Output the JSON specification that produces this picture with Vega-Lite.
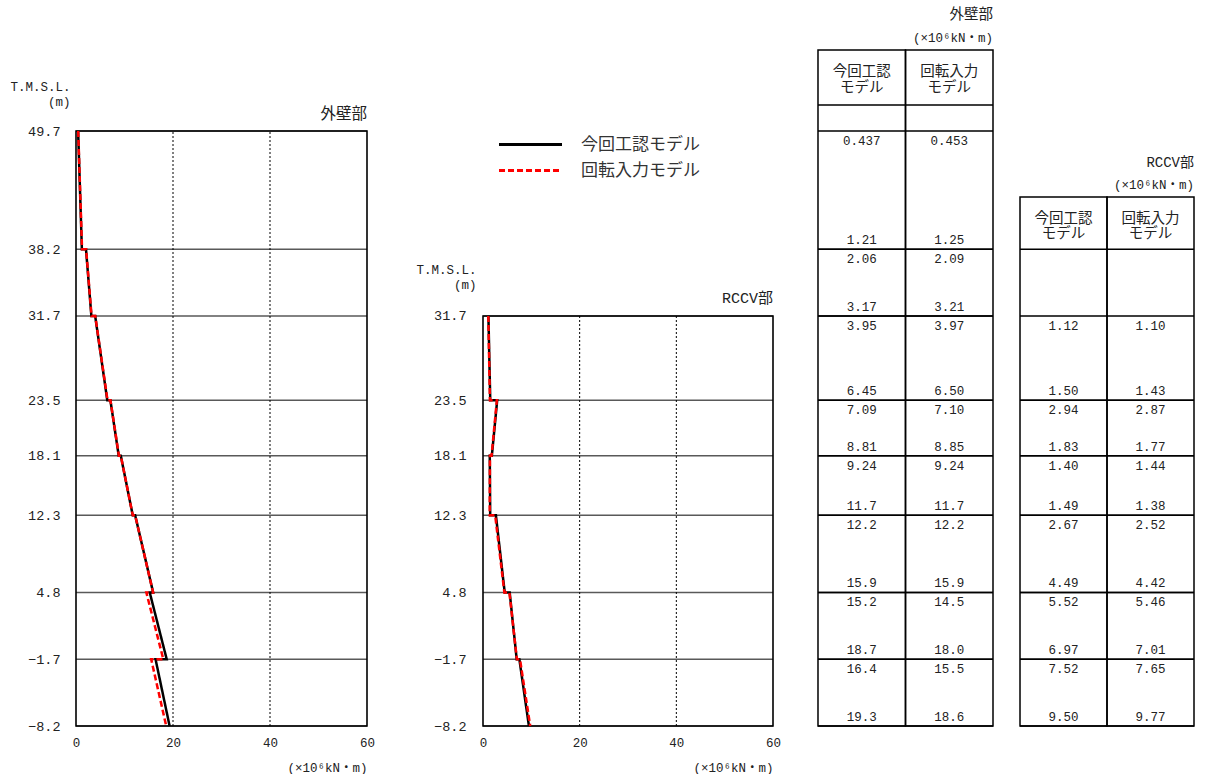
{
  "$schema": "https://vega.github.io/schema/vega-lite/v6.json",
  "padding": {"left": 9, "top": 0, "right": 0, "bottom": 0},
  "background": "white",
  "datasets": {
    "levels": [
      {"elev": 49.7}, {"elev": 38.2}, {"elev": 31.7}, {"elev": 23.5}, {"elev": 18.1},
      {"elev": 12.3}, {"elev": 4.8}, {"elev": -1.7}, {"elev": -8.2}
    ],
    "moments": [
      {"p": "外壁部", "model": "今回工認モデル", "i": 1, "elev": 49.7, "m": 0.437, "pos": "top"},
      {"p": "外壁部", "model": "今回工認モデル", "i": 2, "elev": 38.2, "m": 1.21, "pos": "bot"},
      {"p": "外壁部", "model": "今回工認モデル", "i": 3, "elev": 38.2, "m": 2.06, "pos": "top"},
      {"p": "外壁部", "model": "今回工認モデル", "i": 4, "elev": 31.7, "m": 3.17, "pos": "bot"},
      {"p": "外壁部", "model": "今回工認モデル", "i": 5, "elev": 31.7, "m": 3.95, "pos": "top"},
      {"p": "外壁部", "model": "今回工認モデル", "i": 6, "elev": 23.5, "m": 6.45, "pos": "bot"},
      {"p": "外壁部", "model": "今回工認モデル", "i": 7, "elev": 23.5, "m": 7.09, "pos": "top"},
      {"p": "外壁部", "model": "今回工認モデル", "i": 8, "elev": 18.1, "m": 8.81, "pos": "bot"},
      {"p": "外壁部", "model": "今回工認モデル", "i": 9, "elev": 18.1, "m": 9.24, "pos": "top"},
      {"p": "外壁部", "model": "今回工認モデル", "i": 10, "elev": 12.3, "m": 11.7, "pos": "bot"},
      {"p": "外壁部", "model": "今回工認モデル", "i": 11, "elev": 12.3, "m": 12.2, "pos": "top"},
      {"p": "外壁部", "model": "今回工認モデル", "i": 12, "elev": 4.8, "m": 15.9, "pos": "bot"},
      {"p": "外壁部", "model": "今回工認モデル", "i": 13, "elev": 4.8, "m": 15.2, "pos": "top"},
      {"p": "外壁部", "model": "今回工認モデル", "i": 14, "elev": -1.7, "m": 18.7, "pos": "bot"},
      {"p": "外壁部", "model": "今回工認モデル", "i": 15, "elev": -1.7, "m": 16.4, "pos": "top"},
      {"p": "外壁部", "model": "今回工認モデル", "i": 16, "elev": -8.2, "m": 19.3, "pos": "bot"},
      {"p": "外壁部", "model": "回転入力モデル", "i": 1, "elev": 49.7, "m": 0.453, "pos": "top"},
      {"p": "外壁部", "model": "回転入力モデル", "i": 2, "elev": 38.2, "m": 1.25, "pos": "bot"},
      {"p": "外壁部", "model": "回転入力モデル", "i": 3, "elev": 38.2, "m": 2.09, "pos": "top"},
      {"p": "外壁部", "model": "回転入力モデル", "i": 4, "elev": 31.7, "m": 3.21, "pos": "bot"},
      {"p": "外壁部", "model": "回転入力モデル", "i": 5, "elev": 31.7, "m": 3.97, "pos": "top"},
      {"p": "外壁部", "model": "回転入力モデル", "i": 6, "elev": 23.5, "m": 6.50, "pos": "bot"},
      {"p": "外壁部", "model": "回転入力モデル", "i": 7, "elev": 23.5, "m": 7.10, "pos": "top"},
      {"p": "外壁部", "model": "回転入力モデル", "i": 8, "elev": 18.1, "m": 8.85, "pos": "bot"},
      {"p": "外壁部", "model": "回転入力モデル", "i": 9, "elev": 18.1, "m": 9.24, "pos": "top"},
      {"p": "外壁部", "model": "回転入力モデル", "i": 10, "elev": 12.3, "m": 11.7, "pos": "bot"},
      {"p": "外壁部", "model": "回転入力モデル", "i": 11, "elev": 12.3, "m": 12.2, "pos": "top"},
      {"p": "外壁部", "model": "回転入力モデル", "i": 12, "elev": 4.8, "m": 15.9, "pos": "bot"},
      {"p": "外壁部", "model": "回転入力モデル", "i": 13, "elev": 4.8, "m": 14.5, "pos": "top"},
      {"p": "外壁部", "model": "回転入力モデル", "i": 14, "elev": -1.7, "m": 18.0, "pos": "bot"},
      {"p": "外壁部", "model": "回転入力モデル", "i": 15, "elev": -1.7, "m": 15.5, "pos": "top"},
      {"p": "外壁部", "model": "回転入力モデル", "i": 16, "elev": -8.2, "m": 18.6, "pos": "bot"},
      {"p": "RCCV部", "model": "今回工認モデル", "i": 1, "elev": 31.7, "m": 1.12, "pos": "top"},
      {"p": "RCCV部", "model": "今回工認モデル", "i": 2, "elev": 23.5, "m": 1.50, "pos": "bot"},
      {"p": "RCCV部", "model": "今回工認モデル", "i": 3, "elev": 23.5, "m": 2.94, "pos": "top"},
      {"p": "RCCV部", "model": "今回工認モデル", "i": 4, "elev": 18.1, "m": 1.83, "pos": "bot"},
      {"p": "RCCV部", "model": "今回工認モデル", "i": 5, "elev": 18.1, "m": 1.40, "pos": "top"},
      {"p": "RCCV部", "model": "今回工認モデル", "i": 6, "elev": 12.3, "m": 1.49, "pos": "bot"},
      {"p": "RCCV部", "model": "今回工認モデル", "i": 7, "elev": 12.3, "m": 2.67, "pos": "top"},
      {"p": "RCCV部", "model": "今回工認モデル", "i": 8, "elev": 4.8, "m": 4.49, "pos": "bot"},
      {"p": "RCCV部", "model": "今回工認モデル", "i": 9, "elev": 4.8, "m": 5.52, "pos": "top"},
      {"p": "RCCV部", "model": "今回工認モデル", "i": 10, "elev": -1.7, "m": 6.97, "pos": "bot"},
      {"p": "RCCV部", "model": "今回工認モデル", "i": 11, "elev": -1.7, "m": 7.52, "pos": "top"},
      {"p": "RCCV部", "model": "今回工認モデル", "i": 12, "elev": -8.2, "m": 9.50, "pos": "bot"},
      {"p": "RCCV部", "model": "回転入力モデル", "i": 1, "elev": 31.7, "m": 1.10, "pos": "top"},
      {"p": "RCCV部", "model": "回転入力モデル", "i": 2, "elev": 23.5, "m": 1.43, "pos": "bot"},
      {"p": "RCCV部", "model": "回転入力モデル", "i": 3, "elev": 23.5, "m": 2.87, "pos": "top"},
      {"p": "RCCV部", "model": "回転入力モデル", "i": 4, "elev": 18.1, "m": 1.77, "pos": "bot"},
      {"p": "RCCV部", "model": "回転入力モデル", "i": 5, "elev": 18.1, "m": 1.44, "pos": "top"},
      {"p": "RCCV部", "model": "回転入力モデル", "i": 6, "elev": 12.3, "m": 1.38, "pos": "bot"},
      {"p": "RCCV部", "model": "回転入力モデル", "i": 7, "elev": 12.3, "m": 2.52, "pos": "top"},
      {"p": "RCCV部", "model": "回転入力モデル", "i": 8, "elev": 4.8, "m": 4.42, "pos": "bot"},
      {"p": "RCCV部", "model": "回転入力モデル", "i": 9, "elev": 4.8, "m": 5.46, "pos": "top"},
      {"p": "RCCV部", "model": "回転入力モデル", "i": 10, "elev": -1.7, "m": 7.01, "pos": "bot"},
      {"p": "RCCV部", "model": "回転入力モデル", "i": 11, "elev": -1.7, "m": 7.65, "pos": "top"},
      {"p": "RCCV部", "model": "回転入力モデル", "i": 12, "elev": -8.2, "m": 9.77, "pos": "bot"}
    ],
    "columns": [
      {"model": "今回工認モデル", "label": "今回工認\nモデル"},
      {"model": "回転入力モデル", "label": "回転入力\nモデル"}
    ],
    "one": [{}]
  },
  "spacing": 0,
  "bounds": "flush",
  "hconcat": [
    {
      "width": 291,
      "height": 726,
      "layer": [
        {
          "data": {"name": "levels"},
          "mark": {"type": "rule", "color": "#595959", "strokeWidth": 1.5},
          "encoding": {
            "y": {"field": "elev", "type": "quantitative",
              "scale": {"domain": [-8.2, 62.448], "nice": false, "zero": false}},
            "x": {"datum": 0, "type": "quantitative",
              "scale": {"domain": [0, 60], "nice": false, "zero": false}},
            "x2": {"datum": 60}
          }
        },
        {
          "data": {"name": "one"},
          "mark": {"type": "rule", "color": "black", "strokeWidth": 1, "strokeDash": [2, 2]},
          "encoding": {
            "x": {"datum": 20, "type": "quantitative"},
            "y": {"datum": -8.2, "type": "quantitative"},
            "y2": {"datum": 49.7}
          }
        },
        {
          "data": {"name": "one"},
          "mark": {"type": "rule", "color": "black", "strokeWidth": 1, "strokeDash": [2, 2]},
          "encoding": {
            "x": {"datum": 40, "type": "quantitative"},
            "y": {"datum": -8.2, "type": "quantitative"},
            "y2": {"datum": 49.7}
          }
        },
        {
          "data": {"name": "one"},
          "mark": {"type": "rect", "filled": false, "color": "black", "strokeWidth": 1.6},
          "encoding": {
            "x": {"datum": 0, "type": "quantitative"},
            "x2": {"datum": 60},
            "y": {"datum": -8.2, "type": "quantitative"},
            "y2": {"datum": 49.7}
          }
        },
        {
          "data": {"name": "one"},
          "mark": {"type": "text", "text": "外壁部", "align": "right", "baseline": "middle", "dy": -17, "fontSize": 15.5, "color": "#222"},
          "encoding": {
            "x": {"datum": 60, "type": "quantitative"},
            "y": {"datum": 49.7, "type": "quantitative"}
          }
        },
        {
          "data": {"name": "moments"},
          "transform": [{"filter": "datum.p === '外壁部'"}],
          "mark": {"type": "line", "strokeWidth": 2.5},
          "encoding": {
            "x": {"field": "m", "type": "quantitative",
              "axis": {"values": [0, 20, 40, 60], "ticks": false, "domain": false, "grid": false,
                "labelPadding": 10, "labelFontSize": 12.5, "labelFlush": false,
                "title": "(×10⁶kN・m)", "titleAlign": "right", "titleAnchor": "end", "titleX": 291, "titleY": 41,
                "titleBaseline": "middle", "titleFontSize": 12.5, "titleFontWeight": "normal"}},
            "y": {"field": "elev", "type": "quantitative",
              "axis": {"values": [49.7, 38.2, 31.7, 23.5, 18.1, 12.3, 4.8, -1.7, -8.2], "format": ".1f",
                "ticks": false, "domain": false, "grid": false, "labelPadding": 16, "labelFontSize": 13.5,
                "labelFlush": false, "labelOverlap": false,
                "title": ["T.M.S.L.", "(m)"], "titleAngle": 0, "titleAlign": "right", "titleBaseline": "top",
                "titleX": -6, "titleY": 80, "titleFontSize": 12.5, "titleFontWeight": "normal", "titleLineHeight": 15}},
            "order": {"field": "i", "type": "quantitative"},
            "color": {"field": "model", "type": "nominal",
              "scale": {"domain": ["今回工認モデル", "回転入力モデル"], "range": ["#000000", "#ff0000"]},
              "legend": {"orient": "none", "legendX": 445, "legendY": 135, "title": null,
                "symbolType": "M-4,0H4", "symbolSize": 248, "symbolStrokeWidth": 3,
                "labelFontSize": 17, "labelOffset": 41, "rowPadding": 8, "padding": 0}},
            "strokeDash": {"field": "model", "type": "nominal",
              "scale": {"domain": ["今回工認モデル", "回転入力モデル"], "range": [[1, 0], [6, 3]]},
              "legend": {"orient": "none", "legendX": 445, "legendY": 135, "title": null,
                "symbolType": "M-4,0H4", "symbolSize": 248, "symbolStrokeWidth": 3,
                "labelFontSize": 17, "labelOffset": 41, "rowPadding": 8, "padding": 0}}
          }
        }
      ]
    },
    {
      "width": 406,
      "height": 726,
      "layer": [
        {
          "data": {"name": "levels"},
          "transform": [{"filter": "datum.elev <= 31.7"}],
          "mark": {"type": "rule", "color": "#595959", "strokeWidth": 1.5},
          "encoding": {
            "y": {"field": "elev", "type": "quantitative",
              "scale": {"domain": [-8.2, 62.448], "nice": false, "zero": false}},
            "x": {"datum": 0, "type": "quantitative",
              "scale": {"domain": [-24, 60], "nice": false, "zero": false}},
            "x2": {"datum": 60}
          }
        },
        {
          "data": {"name": "one"},
          "mark": {"type": "rule", "color": "black", "strokeWidth": 1, "strokeDash": [2, 2]},
          "encoding": {
            "x": {"datum": 20, "type": "quantitative"},
            "y": {"datum": -8.2, "type": "quantitative"},
            "y2": {"datum": 31.7}
          }
        },
        {
          "data": {"name": "one"},
          "mark": {"type": "rule", "color": "black", "strokeWidth": 1, "strokeDash": [2, 2]},
          "encoding": {
            "x": {"datum": 40, "type": "quantitative"},
            "y": {"datum": -8.2, "type": "quantitative"},
            "y2": {"datum": 31.7}
          }
        },
        {
          "data": {"name": "one"},
          "mark": {"type": "rect", "filled": false, "color": "black", "strokeWidth": 1.6},
          "encoding": {
            "x": {"datum": 0, "type": "quantitative"},
            "x2": {"datum": 60},
            "y": {"datum": -8.2, "type": "quantitative"},
            "y2": {"datum": 31.7}
          }
        },
        {
          "data": {"name": "one"},
          "mark": {"type": "text", "text": "RCCV部", "align": "right", "baseline": "middle", "dy": -18, "fontSize": 15, "color": "#222"},
          "encoding": {
            "x": {"datum": 60, "type": "quantitative"},
            "y": {"datum": 31.7, "type": "quantitative"}
          }
        },
        {
          "data": {"name": "moments"},
          "transform": [{"filter": "datum.p === 'RCCV部'"}],
          "mark": {"type": "line", "strokeWidth": 2.5},
          "encoding": {
            "x": {"field": "m", "type": "quantitative",
              "axis": {"values": [0, 20, 40, 60], "ticks": false, "domain": false, "grid": false,
                "labelPadding": 10, "labelFontSize": 12.5, "labelFlush": false,
                "title": "(×10⁶kN・m)", "titleAlign": "right", "titleAnchor": "end", "titleX": 406, "titleY": 41,
                "titleBaseline": "middle", "titleFontSize": 12.5, "titleFontWeight": "normal"}},
            "y": {"field": "elev", "type": "quantitative",
              "axis": {"values": [31.7, 23.5, 18.1, 12.3, 4.8, -1.7, -8.2], "format": ".1f", "offset": -116,
                "ticks": false, "domain": false, "grid": false, "labelPadding": 17, "labelFontSize": 13.5,
                "labelFlush": false, "labelOverlap": false,
                "title": ["T.M.S.L.", "(m)"], "titleAngle": 0, "titleAlign": "right", "titleBaseline": "top",
                "titleX": -7, "titleY": 263, "titleFontSize": 12.5, "titleFontWeight": "normal", "titleLineHeight": 15}},
            "order": {"field": "i", "type": "quantitative"},
            "color": {"field": "model", "type": "nominal",
              "scale": {"domain": ["今回工認モデル", "回転入力モデル"], "range": ["#000000", "#ff0000"]},
              "legend": {"orient": "none", "legendX": 445, "legendY": 135, "title": null,
                "symbolType": "M-4,0H4", "symbolSize": 248, "symbolStrokeWidth": 3,
                "labelFontSize": 17, "labelOffset": 41, "rowPadding": 8, "padding": 0}},
            "strokeDash": {"field": "model", "type": "nominal",
              "scale": {"domain": ["今回工認モデル", "回転入力モデル"], "range": [[1, 0], [6, 3]]},
              "legend": {"orient": "none", "legendX": 445, "legendY": 135, "title": null,
                "symbolType": "M-4,0H4", "symbolSize": 248, "symbolStrokeWidth": 3,
                "labelFontSize": 17, "labelOffset": 41, "rowPadding": 8, "padding": 0}}
          }
        }
      ]
    },
    {
      "width": 220,
      "height": 726,
      "layer": [
        {
          "data": {"name": "columns"},
          "mark": {"type": "rect", "filled": false, "color": "black", "strokeWidth": 1.5},
          "encoding": {
            "x": {"field": "model", "type": "nominal",
              "scale": {"type": "band", "domain": ["今回工認モデル", "回転入力モデル"], "paddingInner": 0, "paddingOuter": 0.2571, "align": 1},
              "axis": null},
            "y": {"datum": -8.2, "type": "quantitative",
              "scale": {"domain": [-8.2, 62.448], "nice": false, "zero": false}, "axis": null},
            "y2": {"datum": 57.58}
          }
        },
        {
          "data": {"name": "columns"},
          "mark": {"type": "rect", "filled": false, "color": "black", "strokeWidth": 1.5},
          "encoding": {
            "x": {"field": "model", "type": "nominal", "axis": null},
            "y": {"datum": 52.23, "type": "quantitative", "axis": null},
            "y2": {"datum": 52.23}
          }
        },
        {
          "data": {"name": "columns"},
          "mark": {"type": "text", "lineBreak": "\n", "lineHeight": 16, "baseline": "middle", "dy": 22, "fontSize": 14.5, "color": "#222"},
          "encoding": {
            "x": {"field": "model", "type": "nominal", "axis": null},
            "y": {"datum": 57.58, "type": "quantitative", "axis": null},
            "text": {"field": "label"}
          }
        },
        {
          "data": {"name": "moments"},
          "transform": [{"filter": "datum.p === '外壁部'"}],
          "mark": {"type": "rect", "filled": false, "color": "black", "strokeWidth": 1.5},
          "encoding": {
            "x": {"field": "model", "type": "nominal", "axis": null},
            "y": {"field": "elev", "type": "quantitative", "axis": null},
            "y2": {"field": "elev"}
          }
        },
        {
          "data": {"name": "moments"},
          "transform": [{"filter": "datum.p === '外壁部' && datum.pos === 'top'"}],
          "mark": {"type": "text", "baseline": "middle", "dy": 10, "fontSize": 12.5, "color": "#222"},
          "encoding": {
            "x": {"field": "model", "type": "nominal", "axis": null},
            "y": {"field": "elev", "type": "quantitative", "axis": null},
            "text": {"field": "m", "type": "quantitative", "format": ".3g"}
          }
        },
        {
          "data": {"name": "moments"},
          "transform": [{"filter": "datum.p === '外壁部' && datum.pos === 'bot'"}],
          "mark": {"type": "text", "baseline": "middle", "dy": -9, "fontSize": 12.5, "color": "#222"},
          "encoding": {
            "x": {"field": "model", "type": "nominal", "axis": null},
            "y": {"field": "elev", "type": "quantitative", "axis": null},
            "text": {"field": "m", "type": "quantitative", "format": ".3g"}
          }
        },
        {
          "data": {"name": "one"},
          "mark": {"type": "text", "text": "外壁部", "align": "right", "baseline": "middle", "dy": -35, "fontSize": 14.5, "color": "#222"},
          "encoding": {
            "x": {"datum": "回転入力モデル", "type": "nominal", "bandPosition": 1, "axis": null},
            "y": {"datum": 57.58, "type": "quantitative", "axis": null}
          }
        },
        {
          "data": {"name": "one"},
          "mark": {"type": "text", "text": "(×10⁶kN・m)", "align": "right", "baseline": "middle", "dy": -12, "fontSize": 12.5, "color": "#222"},
          "encoding": {
            "x": {"datum": "回転入力モデル", "type": "nominal", "bandPosition": 1, "axis": null},
            "y": {"datum": 57.58, "type": "quantitative", "axis": null}
          }
        }
      ]
    },
    {
      "width": 201,
      "height": 726,
      "layer": [
        {
          "data": {"name": "columns"},
          "mark": {"type": "rect", "filled": false, "color": "black", "strokeWidth": 1.5},
          "encoding": {
            "x": {"field": "model", "type": "nominal",
              "scale": {"type": "band", "domain": ["今回工認モデル", "回転入力モデル"], "paddingInner": 0, "paddingOuter": 0.1552, "align": 1},
              "axis": null},
            "y": {"datum": -8.2, "type": "quantitative",
              "scale": {"domain": [-8.2, 62.448], "nice": false, "zero": false}, "axis": null},
            "y2": {"datum": 43.28}
          }
        },
        {
          "data": {"name": "columns"},
          "mark": {"type": "rect", "filled": false, "color": "black", "strokeWidth": 1.5},
          "encoding": {
            "x": {"field": "model", "type": "nominal", "axis": null},
            "y": {"datum": 38.2, "type": "quantitative", "axis": null},
            "y2": {"datum": 38.2}
          }
        },
        {
          "data": {"name": "columns"},
          "mark": {"type": "text", "lineBreak": "\n", "lineHeight": 15, "baseline": "middle", "dy": 22, "fontSize": 14.5, "color": "#222"},
          "encoding": {
            "x": {"field": "model", "type": "nominal", "axis": null},
            "y": {"datum": 43.28, "type": "quantitative", "axis": null},
            "text": {"field": "label"}
          }
        },
        {
          "data": {"name": "moments"},
          "transform": [{"filter": "datum.p === 'RCCV部'"}],
          "mark": {"type": "rect", "filled": false, "color": "black", "strokeWidth": 1.5},
          "encoding": {
            "x": {"field": "model", "type": "nominal", "axis": null},
            "y": {"field": "elev", "type": "quantitative", "axis": null},
            "y2": {"field": "elev"}
          }
        },
        {
          "data": {"name": "moments"},
          "transform": [{"filter": "datum.p === 'RCCV部' && datum.pos === 'top'"}],
          "mark": {"type": "text", "baseline": "middle", "dy": 10, "fontSize": 12.5, "color": "#222"},
          "encoding": {
            "x": {"field": "model", "type": "nominal", "axis": null},
            "y": {"field": "elev", "type": "quantitative", "axis": null},
            "text": {"field": "m", "type": "quantitative", "format": ".3g"}
          }
        },
        {
          "data": {"name": "moments"},
          "transform": [{"filter": "datum.p === 'RCCV部' && datum.pos === 'bot'"}],
          "mark": {"type": "text", "baseline": "middle", "dy": -9, "fontSize": 12.5, "color": "#222"},
          "encoding": {
            "x": {"field": "model", "type": "nominal", "axis": null},
            "y": {"field": "elev", "type": "quantitative", "axis": null},
            "text": {"field": "m", "type": "quantitative", "format": ".3g"}
          }
        },
        {
          "data": {"name": "one"},
          "mark": {"type": "text", "text": "RCCV部", "align": "right", "baseline": "middle", "dy": -34, "fontSize": 14, "color": "#222"},
          "encoding": {
            "x": {"datum": "回転入力モデル", "type": "nominal", "bandPosition": 1, "axis": null},
            "y": {"datum": 43.28, "type": "quantitative", "axis": null}
          }
        },
        {
          "data": {"name": "one"},
          "mark": {"type": "text", "text": "(×10⁶kN・m)", "align": "right", "baseline": "middle", "dy": -12, "fontSize": 12.5, "color": "#222"},
          "encoding": {
            "x": {"datum": "回転入力モデル", "type": "nominal", "bandPosition": 1, "axis": null},
            "y": {"datum": 43.28, "type": "quantitative", "axis": null}
          }
        }
      ]
    }
  ],
  "config": {
    "view": {"stroke": null},
    "font": "'Liberation Mono', 'Noto Sans CJK JP'",
    "axis": {"labelColor": "#222", "titleColor": "#222", "labelFont": "'Liberation Mono', 'Noto Sans CJK JP'", "titleFont": "'Liberation Mono', 'Noto Sans CJK JP'"},
    "legend": {"labelFont": "'Noto Sans CJK JP'", "labelColor": "#333"},
    "text": {"font": "'Liberation Mono', 'Noto Sans CJK JP'"}
  }
}
